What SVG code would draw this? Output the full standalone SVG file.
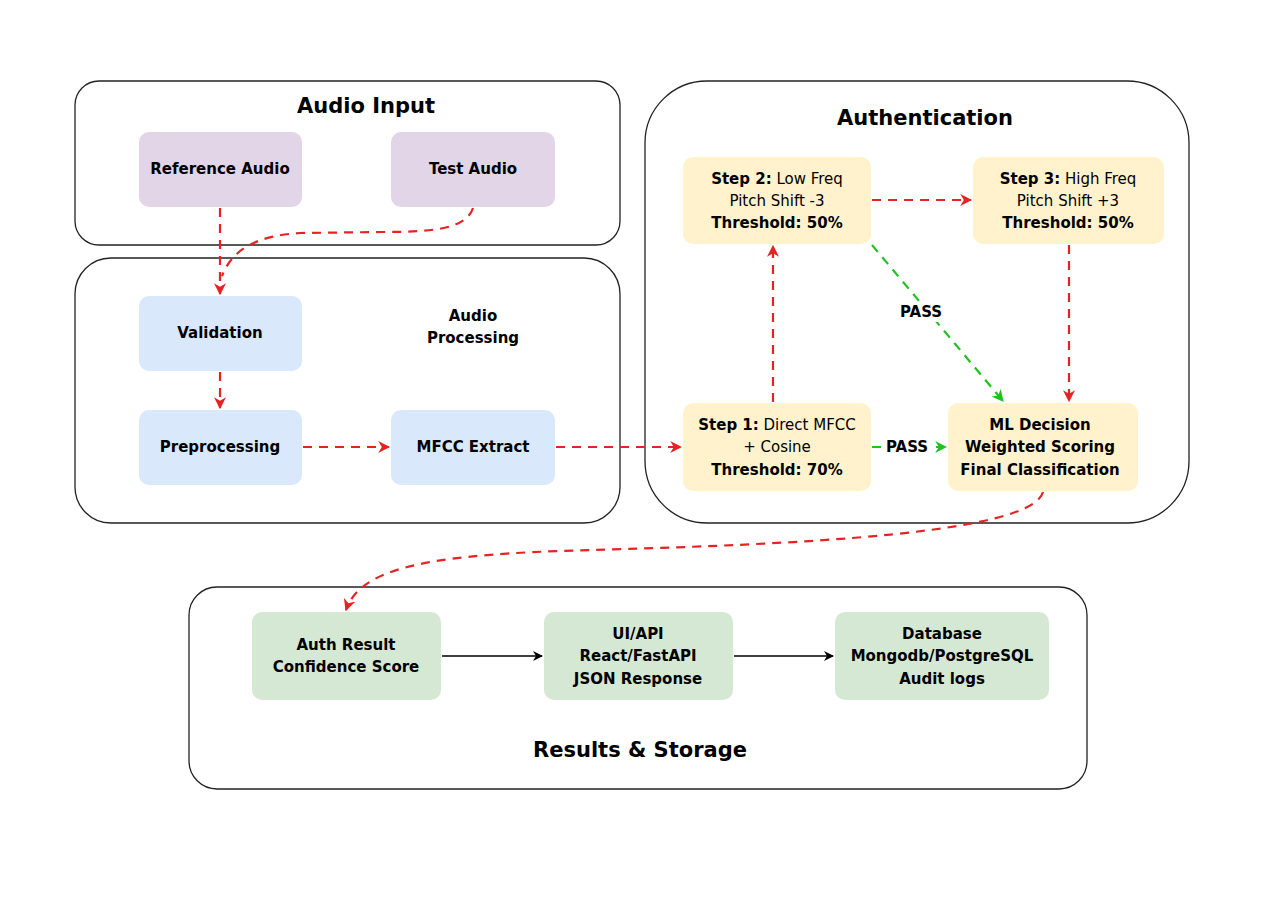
<svg xmlns="http://www.w3.org/2000/svg" width="1280" height="916" viewBox="0 0 1280 916">
<style>
text{font-family:"DejaVu Sans","Liberation Sans",sans-serif;fill:#000;text-anchor:middle;dominant-baseline:central}
.title{font-size:21px;font-weight:bold}
.lbl{font-size:15px;font-weight:bold}
.nrm{font-size:15px;font-weight:normal}
.cont{fill:#fff;stroke:#222;stroke-width:1.3}
.purple{fill:#e1d5e7}
.blue{fill:#dae8fc}
.yellow{fill:#fff2cc}
.green{fill:#d5e8d4}
.red{fill:none;stroke:#e62222;stroke-width:2.2;stroke-dasharray:9 7}
.grn{fill:none;stroke:#22c022;stroke-width:2.2;stroke-dasharray:9 7}
.blk{fill:none;stroke:#000;stroke-width:1.3}
</style>
<defs>
<marker id="ar" viewBox="0 0 10 10" refX="9" refY="5" markerWidth="12" markerHeight="12" markerUnits="userSpaceOnUse" orient="auto"><path d="M0,0 L10,5 L0,10 L3,5 Z" fill="#e62222"/></marker>
<marker id="ag" viewBox="0 0 10 10" refX="9" refY="5" markerWidth="12" markerHeight="12" markerUnits="userSpaceOnUse" orient="auto"><path d="M0,0 L10,5 L0,10 L3,5 Z" fill="#22c022"/></marker>
<marker id="ab" viewBox="0 0 10 10" refX="9" refY="5" markerWidth="10" markerHeight="10" markerUnits="userSpaceOnUse" orient="auto"><path d="M0,0 L10,5 L0,10 L3,5 Z" fill="#000"/></marker>
</defs>
<rect width="1280" height="916" fill="#fff"/>

<g id="audio-input">
<rect class="cont" x="75" y="81" width="545" height="164" rx="24"/>
<text class="title" x="366" y="106">Audio Input</text>
</g>
<g id="audio-processing">
<rect class="cont" x="75" y="258" width="545" height="265" rx="36"/>
<text class="lbl" x="473" y="316">Audio</text>
<text class="lbl" x="473" y="338">Processing</text>
</g>
<g id="authentication">
<rect class="cont" x="645" y="81" width="544" height="442" rx="62"/>
<text class="title" x="925" y="118">Authentication</text>
</g>
<g id="results-storage">
<rect class="cont" x="189" y="587" width="898" height="202" rx="28"/>
<text class="title" x="640" y="750">Results &amp; Storage</text>
</g>

<g id="reference-audio">
<rect class="purple" x="139" y="132" width="163" height="75" rx="10"/>
<text class="lbl" x="220" y="169">Reference Audio</text>
</g>
<g id="test-audio">
<rect class="purple" x="391" y="132" width="164" height="75" rx="10"/>
<text class="lbl" x="473" y="169">Test Audio</text>
</g>
<g id="validation">
<rect class="blue" x="139" y="296" width="163" height="75" rx="10"/>
<text class="lbl" x="220" y="333">Validation</text>
</g>
<g id="preprocessing">
<rect class="blue" x="139" y="410" width="163" height="75" rx="10"/>
<text class="lbl" x="220" y="447">Preprocessing</text>
</g>
<g id="mfcc-extract">
<rect class="blue" x="391" y="410" width="164" height="75" rx="10"/>
<text class="lbl" x="473" y="447">MFCC Extract</text>
</g>
<g id="step2">
<rect class="yellow" x="683" y="157" width="188" height="87" rx="10"/>
<text class="lbl" x="777" y="179"><tspan>Step 2:</tspan><tspan class="nrm"> Low Freq</tspan></text>
<text class="nrm" x="777" y="201">Pitch Shift -3</text>
<text class="lbl" x="777" y="223">Threshold: 50%</text>
</g>
<g id="step3">
<rect class="yellow" x="973" y="157" width="191" height="87" rx="10"/>
<text class="lbl" x="1068" y="179"><tspan>Step 3:</tspan><tspan class="nrm"> High Freq</tspan></text>
<text class="nrm" x="1068" y="201">Pitch Shift +3</text>
<text class="lbl" x="1068" y="223">Threshold: 50%</text>
</g>
<g id="step1">
<rect class="yellow" x="683" y="403" width="188" height="88" rx="10"/>
<text class="lbl" x="777" y="425"><tspan>Step 1:</tspan><tspan class="nrm"> Direct MFCC</tspan></text>
<text class="nrm" x="777" y="447">+ Cosine</text>
<text class="lbl" x="777" y="470">Threshold: 70%</text>
</g>
<g id="ml-decision">
<rect class="yellow" x="948" y="403" width="190" height="88" rx="10"/>
<text class="lbl" x="1040" y="425">ML Decision</text>
<text class="lbl" x="1040" y="447">Weighted Scoring</text>
<text class="lbl" x="1040" y="470">Final Classification</text>
</g>
<g id="auth-result">
<rect class="green" x="252" y="612" width="189" height="88" rx="10"/>
<text class="lbl" x="346" y="645">Auth Result</text>
<text class="lbl" x="346" y="667">Confidence Score</text>
</g>
<g id="ui-api">
<rect class="green" x="544" y="612" width="189" height="88" rx="10"/>
<text class="lbl" x="638" y="634">UI/API</text>
<text class="lbl" x="638" y="656">React/FastAPI</text>
<text class="lbl" x="638" y="679">JSON Response</text>
</g>
<g id="database">
<rect class="green" x="835" y="612" width="214" height="88" rx="10"/>
<text class="lbl" x="942" y="634">Database</text>
<text class="lbl" x="942" y="656">Mongodb/PostgreSQL</text>
<text class="lbl" x="942" y="679">Audit logs</text>
</g>

<g id="connectors">
<path class="red" d="M220,208 L220,294" marker-end="url(#ar)"/>
<path class="red" d="M473,208 C466,230 430,232 380,232 L300,233 C255,236 232,250 222,276"/>
<path class="red" d="M220,372 L220,408" marker-end="url(#ar)"/>
<path class="red" d="M303,447 L389,447" marker-end="url(#ar)"/>
<path class="red" d="M556,447 L681,447" marker-end="url(#ar)"/>
<path class="red" d="M773,402 L773,246" marker-end="url(#ar)"/>
<path class="red" d="M872,200 L971,200" marker-end="url(#ar)"/>
<path class="red" d="M1069,245 L1069,401" marker-end="url(#ar)"/>
<path class="grn" d="M872,245 L1003,401" marker-end="url(#ag)"/>
<path class="grn" d="M872,447 L946,447" marker-end="url(#ag)"/>
<path class="red" d="M1043,492 C1030,540 720,546 560,551 C420,556 360,570 346,610" marker-end="url(#ar)"/>
<path class="blk" d="M442,656 L542,656" marker-end="url(#ab)"/>
<path class="blk" d="M734,656 L833,656" marker-end="url(#ab)"/>
<rect x="897" y="303" width="50" height="19" fill="#fff"/>
<text class="lbl" x="921" y="312">PASS</text>
<rect x="883" y="438" width="48" height="18" fill="#fff"/>
<text class="lbl" x="907" y="447">PASS</text>
</g>
</svg>
